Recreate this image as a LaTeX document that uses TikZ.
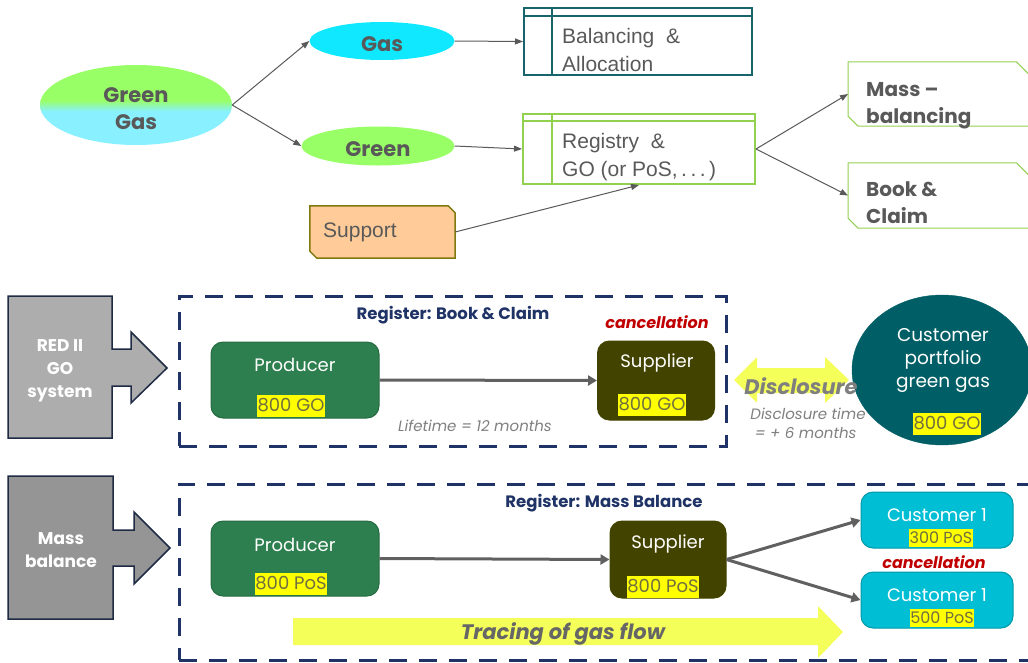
\documentclass[tikz,border=0pt]{standalone}
\usepackage{fontspec}
\usetikzlibrary{shapes.geometric,arrows.meta,calc}
\newfontfamily\cgfont{Poppins}
\newfontfamily\arfont{Liberation Sans}

\definecolor{labelgray}{HTML}{595959}
\definecolor{gascyan}{HTML}{10E8FF}
\definecolor{gggreen}{HTML}{99FF66}
\definecolor{ggcyan}{HTML}{88F0FF}
\definecolor{balteal}{HTML}{17646C}
\definecolor{reggreen}{HTML}{92D050}
\definecolor{supfill}{HTML}{FFCC99}
\definecolor{supdraw}{HTML}{7F7A10}
\definecolor{navy}{HTML}{1F3366}
\definecolor{prodfill}{HTML}{2E7F4F}
\definecolor{proddraw}{HTML}{256B42}
\definecolor{suppfill}{HTML}{434300}
\definecolor{portfill}{HTML}{005F66}
\definecolor{custfill}{HTML}{00BED4}
\definecolor{custdraw}{HTML}{0097A7}
\definecolor{hlyellow}{HTML}{FFFF00}
\definecolor{hltext}{HTML}{6F6F3F}
\definecolor{cancelred}{HTML}{C00000}
\definecolor{notegray}{HTML}{7F7F7F}
\definecolor{arrowgray}{HTML}{595959}
\definecolor{thickgray}{HTML}{606060}
\definecolor{flowyellow}{HTML}{F5FF5A}
\definecolor{blockgray}{HTML}{ADADAD}
\definecolor{blockgraydark}{HTML}{959595}
\definecolor{blockedge}{HTML}{1F2A44}
\definecolor{tracegray}{HTML}{666666}

% two-tone fill of the "Green Gas" ellipse
\pgfdeclareverticalshading{greengas}{100bp}{color(0bp)=(ggcyan); color(46bp)=(ggcyan); color(53bp)=(gggreen); color(100bp)=(gggreen)}

\begin{document}
\begin{tikzpicture}[x=1pt,y=-1pt,
  thinarrow/.style={draw=arrowgray, line width=1pt, -{Triangle[length=8pt,width=6pt]}},
  thickarrow/.style={draw=thickgray, line width=3pt, -{Triangle[length=9pt,width=10pt]}},
  bubble/.style={ellipse, inner sep=0pt, text=labelgray, font=\cgfont\bfseries\fontsize{21}{27}\selectfont, align=center},
  tablebox/.style={draw=#1, line width=2pt, inner sep=0pt},
  boxtext/.style={anchor=west, align=left, inner sep=0pt, text=labelgray, font=\arfont\fontsize{21}{28}\selectfont},
  choicetext/.style={anchor=west, align=left, inner sep=0pt, text=labelgray, font=\cgfont\bfseries\fontsize{20}{27}\selectfont},
  chamfline/.style={draw=reggreen, line width=1pt},
  blockarrow/.style={draw=blockedge, line width=1.5pt},
  blocktext/.style={text=white, align=center, inner sep=0pt, font=\cgfont\bfseries\fontsize{17}{23}\selectfont},
  register/.style={draw=navy, line width=3pt, dash pattern=on 18pt off 12pt},
  regtitle/.style={text=navy, inner sep=0pt, font=\cgfont\bfseries\fontsize{16.5}{20}\selectfont},
  actor/.style={rounded corners=12pt, line width=1pt, inner sep=0pt},
  actortext/.style={text=white, inner sep=0pt, font=\cgfont\fontsize{18}{22}\selectfont},
  amount/.style={fill=hlyellow, text=hltext, inner xsep=0.5pt, inner ysep=3pt, text height=13pt, text depth=3pt, font=\cgfont\fontsize{18}{20}\selectfont},
  smallamount/.style={amount, inner ysep=2pt, text height=12pt, text depth=2pt, font=\cgfont\fontsize{16}{18}\selectfont},
  cancel/.style={text=cancelred, inner sep=0pt, font=\cgfont\bfseries\itshape\fontsize{16}{19}\selectfont},
  note/.style={text=notegray, inner sep=0pt, align=left, font=\cgfont\itshape\fontsize{15}{19}\selectfont}]

\path[use as bounding box, clip] (0,0) rectangle (1028,662);

% ---------- top: green gas split ----------
\node[bubble, shading=greengas, minimum width=192, minimum height=80] (gg) at (136,105) {};
\node[bubble] (ggtext) at (136,109) {Green\\Gas};
\node[bubble, fill=gascyan, minimum width=145, minimum height=38] (gas) at (382,41) {};
\node[bubble] (gastext) at (382,44) {Gas};
\node[bubble, fill=gggreen, minimum width=153, minimum height=39] (green) at (378,146) {};
\node[bubble] (greentext) at (378,149) {Green};

\draw[thinarrow] (gg.east) -- (gas.west);
\draw[thinarrow] (gg.east) -- (green.west);

% balancing table
\node[tablebox=balteal, minimum width=228, minimum height=67] (bal) at (638,41.5) {};
\draw[balteal, line width=2pt] ([yshift=-9pt]bal.north west) -- ([yshift=-9pt]bal.north east);
\draw[balteal, line width=2pt] ([xshift=29pt]bal.north west) -- ([xshift=29pt]bal.south west);
\node[boxtext] (baltext) at (562,50) {Balancing\ \ \&\\Allocation};

% registry table
\node[tablebox=reggreen, minimum width=232, minimum height=70] (reg) at (639,149) {};
\draw[reggreen, line width=2pt] ([yshift=-8pt]reg.north west) -- ([yshift=-8pt]reg.north east);
\draw[reggreen, line width=2pt] ([xshift=30pt]reg.north west) -- ([xshift=30pt]reg.south west);
\node[boxtext] (regtext) at (562,157) {Registry\ \ \&\\GO (or PoS,\,.\,.\,.\,)};

\draw[thinarrow] (gas.east) -- (bal.west);
\draw[thinarrow] (green.east) -- (reg.west);

% support box with two cut corners
\node[minimum width=145, minimum height=52, inner sep=0pt] (sup) at (382.5,232) {};
\draw[fill=supfill, draw=supdraw, line width=1.5pt]
  (sup.north west) -- ([xshift=-7pt]sup.north east) -- ([yshift=-7pt]sup.north east)
  -- (sup.south east) -- ([xshift=7pt]sup.south west) -- ([yshift=7pt]sup.south west) -- cycle;
\node[anchor=west, inner sep=0pt, text=labelgray, font=\arfont\fontsize{21}{25}\selectfont] (suptext) at (323,232) {Support};
\draw[thinarrow] (sup.east) -- (reg.south);

% mass-balancing / book & claim
\node[minimum width=182, minimum height=64, inner sep=0pt, anchor=west] (mass) at (848,94) {};
\draw[chamfline]
  ([yshift=10pt]mass.south west) -- (mass.north west) -- ([xshift=-14pt]mass.north east)
  -- ([yshift=-14pt]mass.north east) -- (mass.south east) -- ([xshift=10pt]mass.south west) -- cycle;
\node[choicetext] (masstext) at (866,106) {Mass –\\balancing};

\node[minimum width=182, minimum height=65, inner sep=0pt, anchor=west] (book) at (848,195.5) {};
\draw[chamfline]
  ([yshift=10pt]book.south west) -- (book.north west) -- ([xshift=-14pt]book.north east)
  -- ([yshift=-14pt]book.north east) -- (book.south east) -- ([xshift=10pt]book.south west) -- cycle;
\node[choicetext] (booktext) at (866,203) {Book \&\\Claim};

\draw[thinarrow] (reg.east) -- (mass.west);
\draw[thinarrow] (reg.east) -- (book.west);

% ---------- middle: RED II GO system ----------
\fill[blockgray] (8,296) -- (112,296) -- (112,349) -- (131,349) -- (131,332) -- (167,368)
  -- (131,403) -- (131,386) -- (112,386) -- (112,438) -- (8,438) -- cycle;
\draw[blockarrow] (8,296) -- (112,296) -- (112,349) -- (131,349) -- (131,332) -- (167,368)
  -- (131,403) -- (131,386) -- (112,386) -- (112,438) -- (8,438) -- cycle;
\node[blocktext] (redii) at (60,371) {RED II\\GO\\system};

\node[register, minimum width=547, minimum height=150, inner sep=0pt] (bc) at (452.5,371) {};
\node[regtitle] (bctitle) at (453,315) {Register: Book \& Claim};

\node[actor, fill=prodfill, draw=proddraw, minimum width=168, minimum height=76] (prod1) at (295,380) {};
\node[actortext] (prod1name) at (295,365) {Producer};
\node[amount] (prod1amt) at (291,406) {800 GO};

\node[actor, fill=suppfill, draw=suppfill, minimum width=117, minimum height=79] (supp1) at (656,380.5) {};
\node[actortext] (supp1name) at (657,363) {Supplier};
\node[amount] (supp1amt) at (652,405) {800 GO};

\node[cancel] (cancel1) at (657,322) {cancellation};
\draw[thickarrow] (prod1.east) -- (supp1.west);
\node[note] (life) at (475,426) {Lifetime = 12 months};

% disclosure double arrow
\fill[flowyellow] (734,380) -- (757,357) -- (757,368) -- (825,368) -- (825,357) -- (849,380)
  -- (825,403) -- (825,393) -- (757,393) -- (757,403) -- cycle;

\node[ellipse, fill=portfill, draw=portfill, minimum width=180, minimum height=150, inner sep=0pt] (port) at (942,370) {};
\node[text=white, align=center, inner sep=0pt, font=\cgfont\fontsize{18.5}{23}\selectfont] (porttext) at (943,360) {Customer\\portfolio\\green gas};
\node[amount] (portamt) at (947,424) {800 GO};

\node[text=notegray, inner sep=0pt, font=\cgfont\bfseries\itshape\fontsize{21}{25}\selectfont] (discl) at (801,386) {Disclosure};
\node[note] (discltime) at (808,423) {Disclosure time\\\ = + 6 months};

% ---------- bottom: mass balance ----------
\fill[blockgraydark] (8,476) -- (113,476) -- (113,530) -- (134,530) -- (134,512) -- (170,548)
  -- (134,584) -- (134,566) -- (113,566) -- (113,619) -- (8,619) -- cycle;
\draw[blockarrow] (8,476) -- (113,476) -- (113,530) -- (134,530) -- (134,512) -- (170,548)
  -- (134,584) -- (134,566) -- (113,566) -- (113,619) -- (8,619) -- cycle;
\node[blocktext] (mbtext) at (61,550) {Mass\\balance};

% tracing arrow
\fill[flowyellow] (293,618) -- (818,618) -- (818,606) -- (843,632) -- (818,658) -- (818,645) -- (293,645) -- cycle;
\node[text=tracegray, inner sep=0pt, font=\cgfont\bfseries\itshape\fontsize{21}{24}\selectfont] (tracing) at (563,634) {Tracing of gas flow};

\node[register, minimum width=880, minimum height=176, inner sep=0pt] (mb) at (619,572) {};
\node[regtitle] (mbtitle) at (604,503) {Register: Mass Balance};

\node[actor, fill=prodfill, draw=proddraw, minimum width=168, minimum height=75] (prod2) at (295,558.5) {};
\node[actortext] (prod2name) at (295,545) {Producer};
\node[amount] (prod2amt) at (291,584) {800 PoS};

\node[actor, fill=suppfill, draw=suppfill, minimum width=116, minimum height=77] (supp2) at (668,559.5) {};
\node[actortext] (supp2name) at (668,544) {Supplier};
\node[amount] (supp2amt) at (663,587) {800 PoS};

\node[actor, fill=custfill, draw=custdraw, minimum width=152, minimum height=56] (cust1) at (937,520) {};
\node[actortext] (cust1name) at (937,515) {Customer 1};
\node[smallamount] (cust1amt) at (941,538) {300 PoS};

\node[actor, fill=custfill, draw=custdraw, minimum width=152, minimum height=56] (cust2) at (937,600) {};
\node[actortext] (cust2name) at (937,595) {Customer 1};
\node[smallamount] (cust2amt) at (942,618) {500 PoS};

\node[cancel] (cancel2) at (934,562) {cancellation};

\draw[thickarrow] (prod2.east) -- (supp2.west);
\draw[thickarrow] (supp2.east) -- (cust1.west);
\draw[thickarrow] (supp2.east) -- (cust2.west);

\end{tikzpicture}
\end{document}
